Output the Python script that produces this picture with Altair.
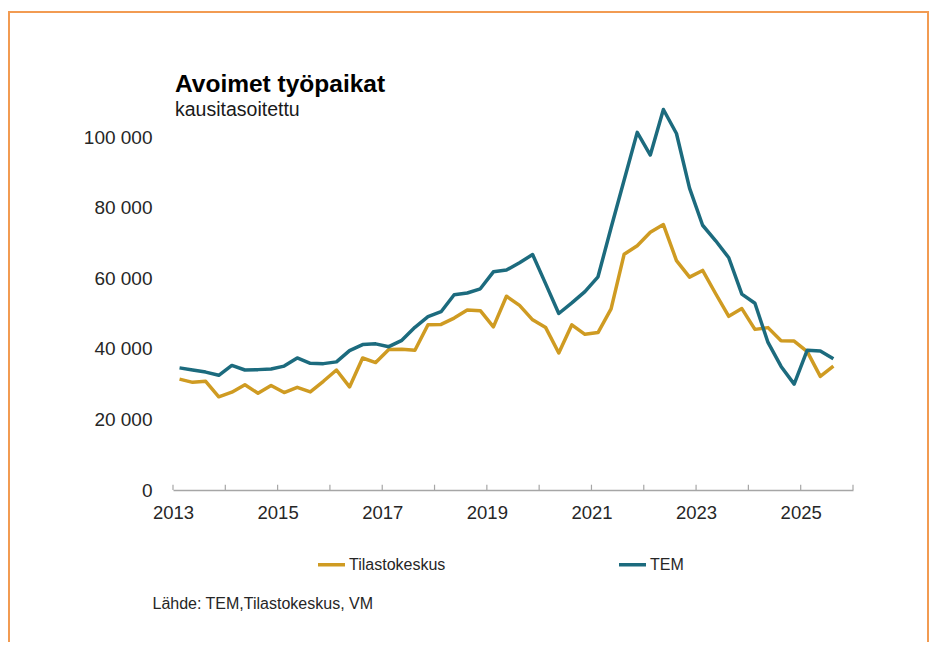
import altair as alt
import pandas as pd

# Quarterly data, 2013Q1 .. 2025Q3 (seasonally adjusted open vacancies)
start_year = 2013
n_quarters = 51
quarter_labels = [f"{start_year + i // 4}Q{i % 4 + 1}" for i in range(n_quarters)]

tilastokeskus = [
    31400, 30500, 30800, 26400, 27700, 29800, 27400, 29600, 27600, 29100,
    27800, 30800, 34000, 29200, 37400, 36100, 39800, 39900, 39600, 46800,
    46900, 48700, 51000, 50800, 46200, 54900, 52300, 48200, 46000, 38800,
    46800, 44100, 44600, 51300, 66800, 69200, 73000, 75200, 65000, 60300,
    62200, 55600, 49200, 51400, 45500, 46000, 42300, 42200, 39200, 32200,
    35100,
]

tem = [
    34600, 34000, 33400, 32500, 35300, 34000, 34100, 34300, 35100, 37400,
    35900, 35800, 36300, 39500, 41200, 41400, 40600, 42400, 46100, 49100,
    50500, 55300, 55800, 57000, 61800, 62300, 64400, 66700, 58400, 50000,
    53000, 56200, 60400, 74300, 87800, 101300, 94900, 107800, 101000, 85500,
    75000, 70600, 65800, 55500, 52900, 41800, 35000, 30000, 39600, 39400,
    37200,
]

series_names = ["Tilastokeskus", "TEM"]
series_colors = ["#CF9B22", "#1C6B7E"]
y_ticks = [0, 20000, 40000, 60000, 80000, 100000]
x_years = list(range(2013, 2027))

rows = []
for i, lab in enumerate(quarter_labels):
    y = int(lab[:4])
    q = int(lab[-1])
    t = y + (q - 0.5) / 4
    rows.append({"t": t, "quarter": lab, "series": "Tilastokeskus", "value": tilastokeskus[i]})
    rows.append({"t": t, "quarter": lab, "series": "TEM", "value": tem[i]})
df = pd.DataFrame(rows)
ticks_df = pd.DataFrame({"year": x_years})
frame_df = pd.DataFrame({"a": [0]})

W, H = 680, 353

x_scale = alt.Scale(domain=[2013, 2026], nice=False, zero=False)
y_scale = alt.Scale(domain=[0, 100000], nice=False)

lines = alt.Chart(df).mark_line(strokeWidth=3.5, strokeJoin="round").encode(
    x=alt.X(
        "t:Q",
        scale=x_scale,
        axis=alt.Axis(
            values=x_years,
            format="d",
            labelExpr="datum.value % 2 == 1 ? datum.label : ''",
            grid=False,
            ticks=False,
            domainColor="#a6a6a6",
            domainWidth=1.5,
            labelFontSize=18.5,
            labelColor="#262626",
            labelPadding=13,
            labelFlush=False,
            title="Lähde: TEM,Tilastokeskus, VM",
            titleX=-21,
            titleY=118,
            titleAlign="left",
            titleBaseline="alphabetic",
            titleFontWeight="normal",
            titleFontSize=16,
            titleColor="#262626",
        ),
    ),
    y=alt.Y(
        "value:Q",
        scale=y_scale,
        axis=alt.Axis(
            values=y_ticks,
            labelExpr="replace(format(datum.value, ','), /,/g, ' ')",
            domain=False,
            ticks=False,
            gridColor="#d0d0d0",
            gridWidth=1.5,
            labelFontSize=19,
            labelColor="#262626",
            labelPadding=21,
            title=None,
        ),
    ),
    color=alt.Color(
        "series:N",
        scale=alt.Scale(domain=series_names, range=series_colors),
        legend=alt.Legend(
            orient="none",
            legendX=143,
            legendY=412,
            direction="horizontal",
            title=None,
            symbolType="stroke",
            symbolSize=729,
            symbolStrokeWidth=3.5,
            labelFontSize=16,
            labelColor="#262626",
            labelOffset=2,
            columnPadding=166,
        ),
    ),
    detail="series:N",
)

ticks = alt.Chart(ticks_df).mark_rule(color="#a6a6a6", strokeWidth=1.2).encode(
    x=alt.X("year:Q", scale=x_scale),
    y=alt.datum(0),
    y2=alt.datum(1500),
)

frame = alt.Chart(frame_df).mark_rect(filled=False, color="#F29B52", strokeWidth=2).encode(
    x=alt.value(-164),
    x2=alt.value(755),
    y=alt.value(-125),
    y2=alt.value(560),
)

chart = alt.layer(frame, ticks, lines).properties(
    width=W,
    height=H,
    autosize=alt.AutoSizeParams(type="none"),
    padding={"left": 165, "top": 129, "right": 76, "bottom": 152},
    title=alt.TitleParams(
        text="Avoimet työpaikat",
        subtitle="kausitasoitettu",
        anchor="start",
        frame="group",
        fontSize=24.5,
        fontWeight="bold",
        color="#000000",
        subtitleFontSize=19.5,
        subtitleColor="#1a1a1a",
        subtitlePadding=3,
        offset=-109,
        dx=2,
    ),
).configure(font="Liberation Sans").configure_view(stroke=None)

chart.save("out.html", embed_options={"renderer": "svg", "actions": False})
